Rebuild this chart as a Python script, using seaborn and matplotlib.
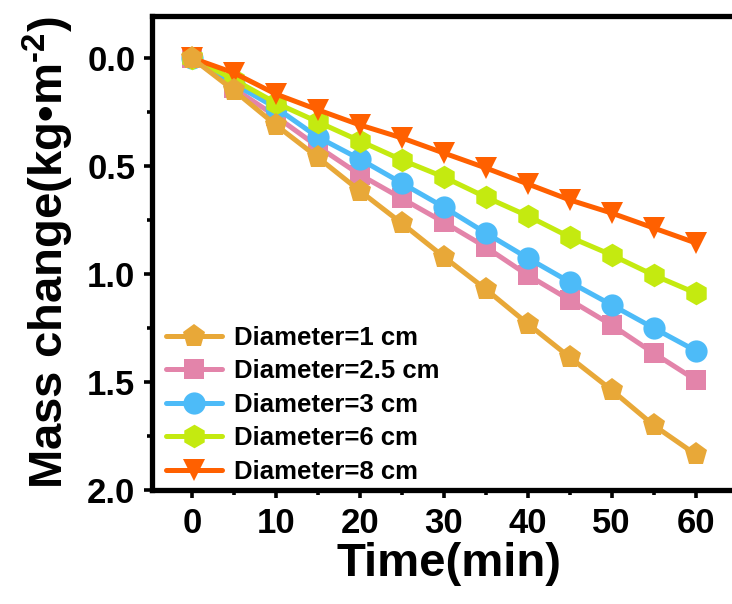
import numpy as np
import pandas as pd
import matplotlib
matplotlib.use("Agg")
import matplotlib.pyplot as plt
import seaborn as sns
from matplotlib.ticker import MultipleLocator, FormatStrFormatter

sns.set_theme(style="ticks")
plt.rcParams['font.family'] = ['Liberation Sans', 'DejaVu Sans']
plt.rcParams['font.weight'] = 'bold'
plt.rcParams['text.color'] = 'black'
plt.rcParams['axes.labelcolor'] = 'black'
plt.rcParams['xtick.color'] = 'black'
plt.rcParams['ytick.color'] = 'black'
plt.rcParams['mathtext.fontset'] = 'custom'
plt.rcParams['mathtext.rm'] = 'Liberation Sans:bold'
plt.rcParams['mathtext.bf'] = 'Liberation Sans:bold'
plt.rcParams['mathtext.default'] = 'bf'

time_min = [0, 5, 10, 15, 20, 25, 30, 35, 40, 45, 50, 55, 60]
labels = ["Diameter=1 cm", "Diameter=2.5 cm", "Diameter=3 cm", "Diameter=6 cm", "Diameter=8 cm"]
d1 = [0.0, 0.15, 0.31, 0.46, 0.615, 0.765, 0.92, 1.07, 1.23, 1.385, 1.537, 1.70, 1.835]
d25 = [0.0, 0.14, 0.27, 0.41, 0.54, 0.65, 0.76, 0.875, 1.005, 1.12, 1.236, 1.366, 1.49]
d3 = [0.0, 0.12, 0.23, 0.366, 0.468, 0.579, 0.69, 0.81, 0.926, 1.037, 1.143, 1.25, 1.355]
d6 = [0.0, 0.10, 0.208, 0.296, 0.384, 0.472, 0.551, 0.644, 0.731, 0.829, 0.912, 1.005, 1.088]
d8 = [0.0, 0.069, 0.167, 0.24, 0.31, 0.37, 0.44, 0.509, 0.583, 0.657, 0.718, 0.787, 0.856]

series = [d1, d25, d3, d6, d8]
colors = ["#E8A838", "#E384AA", "#4DBBF8", "#C4EA10", "#FF6000"]
markers = ["p", "s", "o", "h", "v"]
msizes = [17, 14, 16, 17, 16]
zorders = [7, 3, 4, 5, 6]

fig = plt.figure(figsize=(7.32, 6.04), dpi=100)
ax = fig.add_axes([0.2077, 0.1887, 0.812, 0.7848])

for lab, vals, c, m, ms, z in zip(labels, series, colors, markers, msizes, zorders):
    df = pd.DataFrame({"t": time_min, "v": vals})
    sns.lineplot(data=df, x="t", y="v", ax=ax, color=c, marker=m, markersize=ms,
                 markeredgewidth=0, linewidth=3.6, label=lab, zorder=z, legend=False)

ax.set_xlim(-4.73, 66.06)
ax.set_ylim(2.0, -0.194)
ax.xaxis.set_major_locator(MultipleLocator(10))
ax.xaxis.set_minor_locator(MultipleLocator(5))
ax.yaxis.set_major_locator(MultipleLocator(0.5))
ax.yaxis.set_minor_locator(MultipleLocator(0.25))
ax.yaxis.set_major_formatter(FormatStrFormatter('%.1f'))

for s in ax.spines.values():
    s.set_linewidth(3.8)
    s.set_color('black')
ax.tick_params(axis='both', which='major', direction='out', length=6, width=2.6,
               labelsize=25, colors='black', labelcolor='black', pad=6)
ax.tick_params(axis='both', which='minor', direction='out', length=3.5, width=2.6, colors='black')
ax.tick_params(top=False, right=False, which='both')
for t in ax.get_xticklabels() + ax.get_yticklabels():
    t.set_fontweight('bold')

ax.set_xlabel("Time(min)", fontsize=34, fontweight='bold', labelpad=2, color='black')
ax.set_ylabel("Mass change(kg\u2022m$^{\\text{-2}}$)", fontsize=34, fontweight='bold',
              labelpad=8, color='black')

handles, labs = ax.get_legend_handles_labels()
leg = ax.legend(handles, labs, loc='lower left', bbox_to_anchor=(0.012, 0.0),
                frameon=False, prop={'family': 'Liberation Sans', 'weight': 'bold', 'size': 18.5},
                handlelength=2.2, handletextpad=0.45, labelspacing=0.37,
                borderaxespad=0.0, borderpad=0.25)
for t in leg.get_texts():
    t.set_color('black')

fig.savefig("out.png", dpi=100)
